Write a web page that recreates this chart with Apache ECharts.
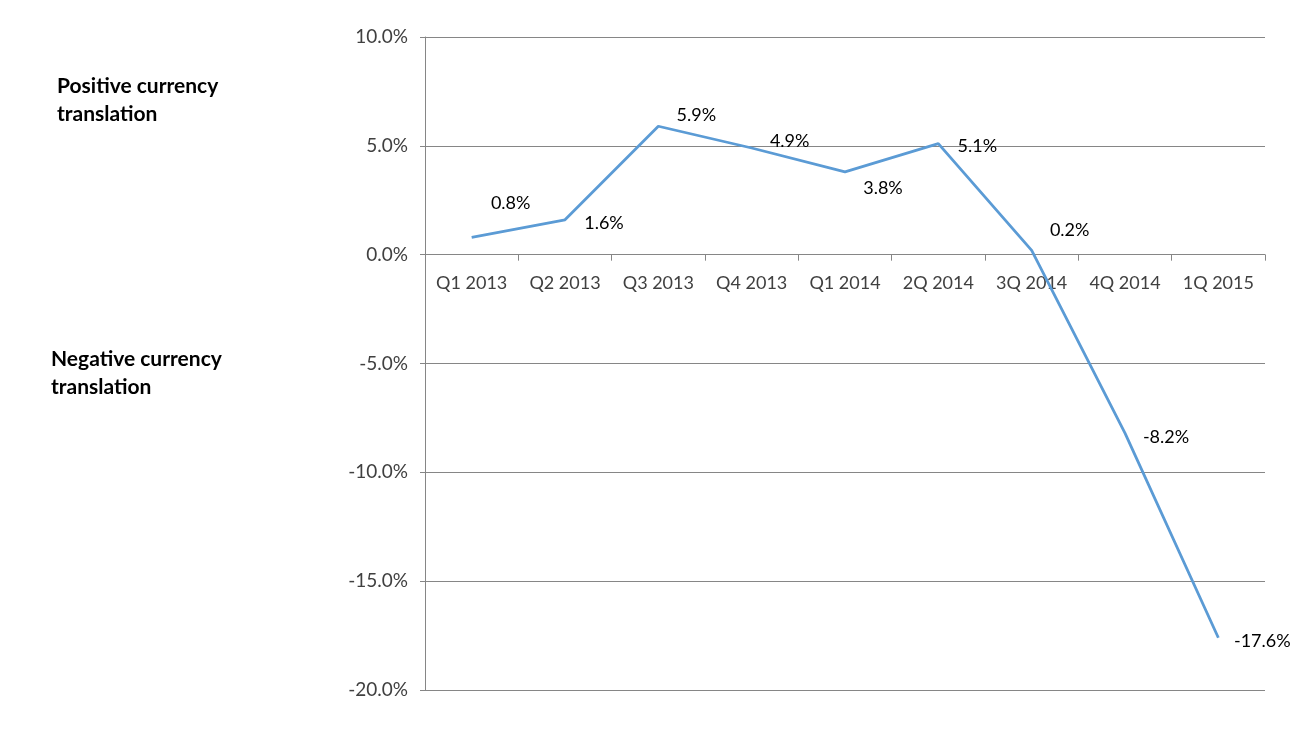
<!DOCTYPE html>
<html>
<head>
<meta charset="utf-8">
<script src="https://cdn.jsdelivr.net/npm/echarts@6/dist/echarts.min.js"></script>
<style>
  html, body { margin: 0; padding: 0; background: #fff; }
  #chart { width: 1296px; height: 729px; }
</style>
</head>
<body>
<div id="chart"></div>
<script>
// 数据
var quarters = ['Q1 2013', 'Q2 2013', 'Q3 2013', 'Q4 2013', 'Q1 2014', '2Q 2014', '3Q 2014', '4Q 2014', '1Q 2015'];
var translation = [0.8, 1.6, 5.9, 4.9, 3.8, 5.1, 0.2, -8.2, -17.6];
// label offsets (px) from each point
var labelOffsets = [[39, -34], [39, 3], [38, -11], [38, -7], [38, 16], [39, 3], [38, -20], [41, 4], [44, 3]];

var yMin = -20, yMax = 10;
var gridTop = 37, gridBottom = 39, chartH = 729;
var plotH = chartH - gridTop - gridBottom;
// 把x轴挪到0的位置
var zeroShift = plotH * (0 - yMin) / (yMax - yMin);

var myChart = echarts.init(document.getElementById('chart'));

var seriesData = translation.map(function (v, i) {
    return {
        value: v,
        label: { offset: labelOffsets[i] }
    };
});

var option = {
    backgroundColor: '#ffffff',
    textStyle: { fontFamily: 'Lato' },
    grid: { left: 425, right: 31, top: gridTop, bottom: gridBottom },
    graphic: [
        {
            type: 'text', left: 57, top: 72,
            style: { text: 'Positive currency\ntranslation', font: 'bold 21px Lato', fill: '#000', lineHeight: 28 }
        },
        {
            type: 'text', left: 51, top: 345,
            style: { text: 'Negative currency\ntranslation', font: 'bold 21px Lato', fill: '#000', lineHeight: 28 }
        }
    ],
    xAxis: {
        type: 'category',
        data: quarters,
        boundaryGap: true,
        offset: -zeroShift,
        axisLine: { onZero: false, lineStyle: { color: '#868686', width: 1 } },
        axisTick: { show: true, length: 6, lineStyle: { color: '#868686' } },
        axisLabel: { color: '#404040', fontSize: 18, margin: 20, fontFamily: 'Lato' },
        splitLine: { show: false },
        z: 1
    },
    yAxis: {
        type: 'value',
        min: yMin,
        max: yMax,
        interval: 5,
        axisLine: { show: true, lineStyle: { color: '#868686', width: 1 } },
        axisTick: { show: true, length: 5, lineStyle: { color: '#868686' } },
        axisLabel: {
            color: '#404040', fontSize: 19, margin: 17, fontFamily: 'Lato',
            formatter: function (v) { return v.toFixed(1) + '%'; }
        },
        splitLine: { show: true, lineStyle: { color: '#868686', width: 1 } }
    },
    series: [{
        type: 'line',
        data: seriesData,
        symbol: 'circle',
        symbolSize: 1,
        itemStyle: { color: 'rgba(91,155,213,0)' },
        lineStyle: { color: '#5B9BD5', width: 2.8 },
        label: {
            show: true,
            position: 'inside',
            color: '#000',
            fontSize: 18,
            fontFamily: 'Lato',
            formatter: function (p) { return p.value.toFixed(1) + '%'; }
        },
        animation: false,
        z: 3
    }]
};

myChart.setOption(option);
</script>
</body>
</html>
